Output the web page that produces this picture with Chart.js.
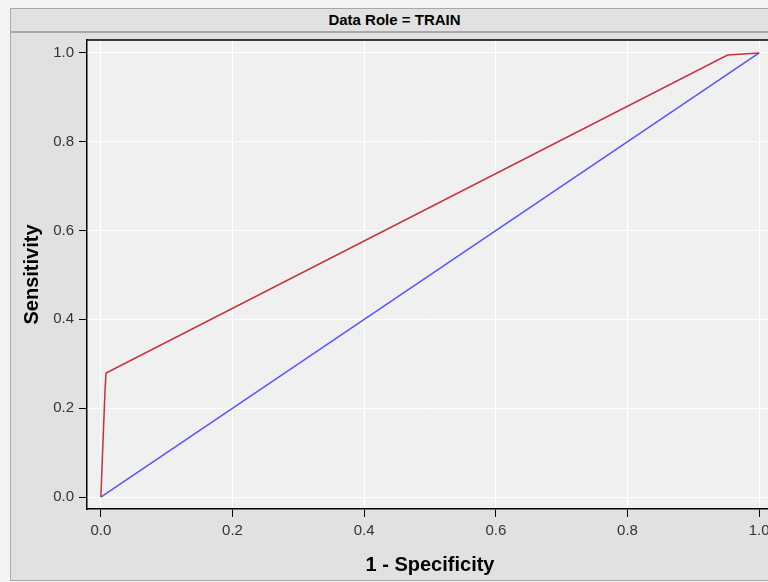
<!DOCTYPE html>
<html>
<head>
<meta charset="utf-8">
<script src="https://cdn.jsdelivr.net/npm/chart.js@4"></script>
<style>
    html, body { margin: 0; padding: 0; width: 768px; height: 582px; overflow: hidden; background: #f4f4f4; }
    #panel { position: absolute; left: 10px; top: 8px; width: 767px; height: 571px; border: 1px solid #a8a8a8; background: #e1e1e1; }
    #head { height: 22px; border-bottom: 2px solid #a8a8a8; text-align: center; font: bold 15px "Liberation Sans", Arial, sans-serif; line-height: 22px; color: #000; }
    #wrap { position: absolute; left: 0; top: 24px; width: 789px; height: 546px; }
</style>
</head>
<body>
<div id="panel">
    <div id="head">Data Role = TRAIN</div>
    <div id="wrap"><canvas id="roc"></canvas></div>
</div>
<script>
// ROC curve (train) and the reference diagonal
const rocFpr = [0, 0.0065, 0.008, 0.952, 1.0];
const rocTpr = [0, 0.245, 0.279, 0.995, 1.0];
const diagFpr = [0, 1];
const diagTpr = [0, 1];
const xTickValues = [0, 0.2, 0.4, 0.6, 0.8, 1.0];
const yTickValues = [0, 0.2, 0.4, 0.6, 0.8, 1.0];

function toPoints(xs, ys) {
    return xs.map(function (x, i) { return { x: x, y: ys[i] }; });
}

// plot background and top frame line
const plotFrame = {
    id: 'plotFrame',
    beforeDraw: function (chart) {
        const a = chart.chartArea;
        const ctx = chart.ctx;
        ctx.save();
        ctx.fillStyle = '#f0f0f0';
        ctx.fillRect(a.left, a.top, a.right - a.left, a.bottom - a.top);
        ctx.restore();
    },
    afterDraw: function (chart) {
        const a = chart.chartArea;
        const ctx = chart.ctx;
        ctx.save();
        ctx.strokeStyle = '#000';
        ctx.lineWidth = 1.5;
        ctx.beginPath();
        ctx.moveTo(a.left, a.top);
        ctx.lineTo(a.right, a.top);
        ctx.stroke();
        ctx.restore();
    }
};

const tickFont = { family: '"Liberation Sans", Arial, sans-serif', size: 15 };
const titleFont = { family: '"Liberation Sans", Arial, sans-serif', size: 20, weight: 'bold' };

new Chart(document.getElementById('roc'), {
    type: 'line',
    data: {
        datasets: [{
            label: 'ROC',
            data: toPoints(rocFpr, rocTpr),
            borderColor: '#c8303f',
            borderWidth: 1.5,
            pointRadius: 0,
            tension: 0
        }, {
            label: 'Baseline',
            data: toPoints(diagFpr, diagTpr),
            borderColor: '#5555ff',
            borderWidth: 1.5,
            pointRadius: 0,
            tension: 0
        }]
    },
    options: {
        responsive: true,
        maintainAspectRatio: false,
        animation: false,
        layout: { padding: { top: 7, right: 27, bottom: 0, left: 0 } },
        plugins: {
            legend: { display: false },
            tooltip: { enabled: false }
        },
        scales: {
            x: {
                type: 'linear',
                min: -0.021,
                max: 1.021,
                afterBuildTicks: function (scale) {
                    scale.ticks = xTickValues.map(function (v) { return { value: v }; });
                },
                afterFit: function (scale) {
                    scale.height = 70;
                    scale.paddingLeft = 0;
                    scale.paddingRight = 0;
                },
                grid: { color: '#ffffff', lineWidth: 1, tickColor: '#000', tickLength: 8 },
                border: { display: true, color: '#000', width: 1.5 },
                ticks: {
                    font: tickFont,
                    color: '#333',
                    padding: 5,
                    maxRotation: 0,
                    callback: function (v) { return Number(v).toFixed(1); }
                },
                title: { display: true, text: '1 - Specificity', font: titleFont, color: '#000', padding: { top: 0, bottom: 2 } }
            },
            y: {
                type: 'linear',
                min: -0.027,
                max: 1.029,
                afterBuildTicks: function (scale) {
                    scale.ticks = yTickValues.map(function (v) { return { value: v }; });
                },
                afterFit: function (scale) {
                    scale.width = 76;
                    scale.paddingTop = 0;
                    scale.paddingBottom = 0;
                },
                grid: { color: '#ffffff', lineWidth: 1, tickColor: '#000', tickLength: 8 },
                border: { display: true, color: '#000', width: 1.5 },
                ticks: {
                    font: tickFont,
                    color: '#333',
                    padding: 5,
                    callback: function (v) { return Number(v).toFixed(1); }
                },
                title: { display: true, text: 'Sensitivity', font: titleFont, color: '#000', padding: { top: 9, bottom: 0 } }
            }
        }
    },
    plugins: [plotFrame]
});
</script>
</body>
</html>
